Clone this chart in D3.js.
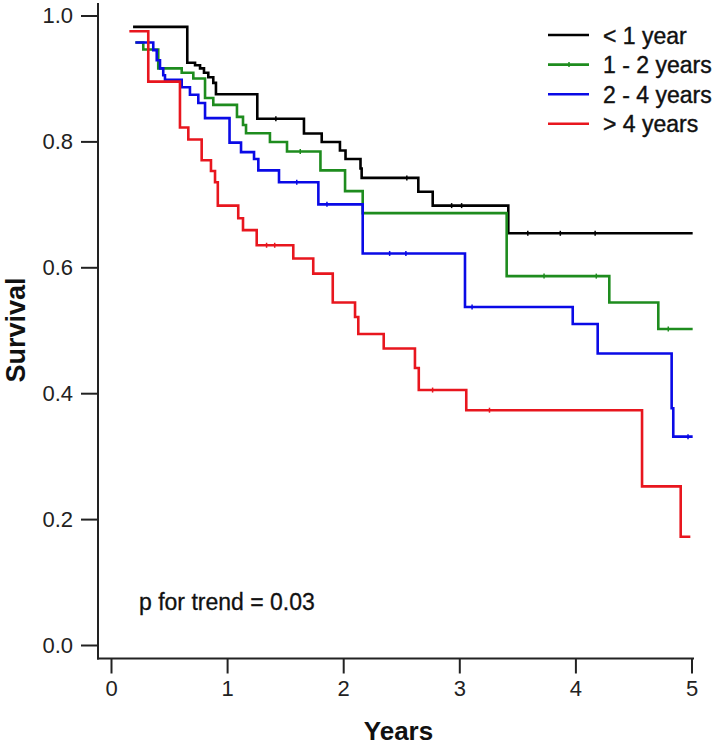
<!DOCTYPE html>
<html>
<head>
<meta charset="utf-8">
<script src="https://cdn.jsdelivr.net/npm/d3@7"></script>
<style>
  body { margin: 0; background: #fff; }
  text { font-family: "Liberation Sans", Arial, sans-serif; }
</style>
</head>
<body>
<script>
var width = 717
var height = 746

// groups and colours
var groups = ["< 1 year", "1 - 2 years", "2 - 4 years", "> 4 years"]
var colors = ["#000000", "#1e8c1e", "#0a0ae6", "#e8161e"]

// step points (time in years, survival after the drop)
var lt1Time = [0.19, 0.657, 0.724, 0.767, 0.801, 0.838, 0.881, 0.904, 1.26, 1.662, 1.815, 1.972, 2.02, 2.149, 2.159, 2.647, 2.771, 3.422, 5.01]
var lt1Surv = [0.982, 0.925, 0.921, 0.916, 0.909, 0.902, 0.893, 0.875, 0.836, 0.8125, 0.799, 0.7855, 0.772, 0.757, 0.742, 0.720, 0.698, 0.654, 0.654]

var y12Time = [0.21, 0.278, 0.407, 0.609, 0.709, 0.81, 0.881, 1.085, 1.137, 1.163, 1.369, 1.516, 1.804, 2.016, 2.168, 3.408, 4.292, 4.714, 5.01]
var y12Surv = [0.957, 0.946, 0.916, 0.909, 0.900, 0.869, 0.858, 0.839, 0.826, 0.813, 0.799, 0.784, 0.754, 0.721, 0.686, 0.586, 0.544, 0.502, 0.502]

var y24Time = [0.21, 0.364, 0.394, 0.422, 0.45, 0.465, 0.609, 0.68, 0.752, 0.81, 1.021, 1.12, 1.232, 1.269, 1.447, 1.786, 2.168, 3.049, 3.977, 4.192, 4.829, 4.843, 5.01]
var y24Surv = [0.957, 0.945, 0.929, 0.916, 0.905, 0.898, 0.886, 0.874, 0.861, 0.837, 0.798, 0.783, 0.772, 0.754, 0.735, 0.700, 0.622, 0.537, 0.510, 0.463, 0.376, 0.331, 0.331]

var gt4Time = [0.158, 0.321, 0.594, 0.666, 0.781, 0.861, 0.896, 0.92, 1.096, 1.137, 1.255, 1.570, 1.742, 1.91, 2.102, 2.13, 2.349, 2.618, 2.651, 3.06, 4.574, 4.907, 4.99]
var gt4Surv = [0.975, 0.895, 0.822, 0.803, 0.770, 0.753, 0.735, 0.698, 0.678, 0.659, 0.635, 0.614, 0.590, 0.544, 0.521, 0.494, 0.471, 0.440, 0.405, 0.373, 0.252, 0.172, 0.172]

// censored observations (small marks on the curves)
var lt1Cens = [1.42, 2.548, 2.934, 3.02, 3.59, 3.87, 4.17]
var y12Cens = [1.63, 3.73, 4.18, 4.80]
var y24Cens = [1.60, 1.86, 2.40, 2.54, 3.11, 4.97]
var gt4Cens = [1.340, 1.41, 2.77, 3.26]

var series = [
  {time: lt1Time, surv: lt1Surv, cens: lt1Cens},
  {time: y12Time, surv: y12Surv, cens: y12Cens},
  {time: y24Time, surv: y24Surv, cens: y24Cens},
  {time: gt4Time, surv: gt4Surv, cens: gt4Cens}
]

var xTicks = [0, 1, 2, 3, 4, 5]
var yTicks = [0, 0.2, 0.4, 0.6, 0.8, 1.0]

var svg = d3.select("body").append("svg")
            .attr("width", width)
            .attr("height", height)

var x = d3.scaleLinear().domain([0, 5]).range([111, 691.5])
var y = d3.scaleLinear().domain([0, 1]).range([645, 15.5])

var axisColor = "#222"

// y axis
var yAxis = svg.append("g")
               .attr("transform", "translate(98,0)")
               .call(d3.axisLeft(y).tickValues(yTicks).tickSize(17).tickSizeOuter(0).tickPadding(8)
                       .tickFormat(d3.format(".1f")))
yAxis.select(".domain").remove()
yAxis.selectAll("line").attr("stroke", axisColor).attr("stroke-width", 2)
yAxis.selectAll("text").attr("font-size", "22px").attr("fill", axisColor)
     .attr("font-family", "Liberation Sans, Arial, sans-serif")

// x axis
var xAxis = svg.append("g")
               .attr("transform", "translate(0,658.5)")
               .call(d3.axisBottom(x).tickValues(xTicks).tickSize(15).tickSizeOuter(0).tickPadding(7)
                       .tickFormat(d3.format("d")))
xAxis.select(".domain").remove()
xAxis.selectAll("line").attr("stroke", axisColor).attr("stroke-width", 2)
xAxis.selectAll("text").attr("font-size", "22px").attr("fill", axisColor)
     .attr("font-family", "Liberation Sans, Arial, sans-serif")

// axis lines (longer than the tick range)
svg.append("line").attr("x1", 98).attr("x2", 98).attr("y1", 3).attr("y2", 659.5)
   .attr("stroke", axisColor).attr("stroke-width", 2)
svg.append("line").attr("x1", 97).attr("x2", 694).attr("y1", 658.5).attr("y2", 658.5)
   .attr("stroke", axisColor).attr("stroke-width", 2)

// curves
var line = d3.line()
             .x(function(d) {return x(d[0])})
             .y(function(d) {return y(d[1])})
             .curve(d3.curveStepAfter)

// value of a step curve at time t
function survAt(s, t) {
  var v = s.surv[0]
  for (var i = 0; i < s.time.length; i++) {
    if (s.time[i] <= t) v = s.surv[i]
  }
  return v
}

series.forEach(function(s, i) {
  var pts = s.time.map(function(t, j) {return [t, s.surv[j]]})
  svg.append("path")
     .datum(pts)
     .attr("d", line)
     .attr("fill", "none")
     .attr("stroke", colors[i])
     .attr("stroke-width", 2.6)

  svg.selectAll(".cens" + i)
     .data(s.cens)
     .enter()
       .append("line")
       .attr("class", "cens" + i)
       .attr("x1", function(d) {return x(d)})
       .attr("x2", function(d) {return x(d)})
       .attr("y1", function(d) {return y(survAt(s, d)) - 2.5})
       .attr("y2", function(d) {return y(survAt(s, d)) + 2.5})
       .attr("stroke", colors[i])
       .attr("stroke-width", 1.5)
})

// legend
var legend = svg.selectAll(".legend")
                .data(groups)
                .enter()
                  .append("g")
                  .attr("class", "legend")
                  .attr("transform", function(d, i) {return "translate(0," + (35 + i * 29.6) + ")"})

legend.append("line")
      .attr("x1", 548).attr("x2", 589)
      .attr("stroke", function(d, i) {return colors[i]})
      .attr("stroke-width", 2.6)

legend.append("text")
      .text(function(d) {return d})
      .attr("x", 603)
      .attr("y", 8.5)
      .attr("font-size", "23px")
      .attr("fill", "#111")
      .attr("stroke", "#111")
      .attr("stroke-width", 0.4)

// tick in the middle of the green legend line
svg.append("line").attr("x1", 569).attr("x2", 569)
   .attr("y1", 35 + 29.6 - 2.5).attr("y2", 35 + 29.6 + 2.5)
   .attr("stroke", colors[1]).attr("stroke-width", 1.5)

// annotation
svg.append("text")
   .text("p for trend = 0.03")
   .attr("x", 139)
   .attr("y", 610)
   .attr("font-size", "23px")
   .attr("fill", "#111")
   .attr("stroke", "#111")
   .attr("stroke-width", 0.3)

// axis titles
svg.append("text")
   .text("Years")
   .attr("x", 398.5)
   .attr("y", 740)
   .attr("text-anchor", "middle")
   .attr("font-size", "26px")
   .attr("font-weight", "bold")
   .attr("fill", "#111")

svg.append("text")
   .text("Survival")
   .attr("transform", "translate(25,330) rotate(-90)")
   .attr("text-anchor", "middle")
   .attr("font-size", "27px")
   .attr("font-weight", "bold")
   .attr("fill", "#111")
</script>
</body>
</html>
